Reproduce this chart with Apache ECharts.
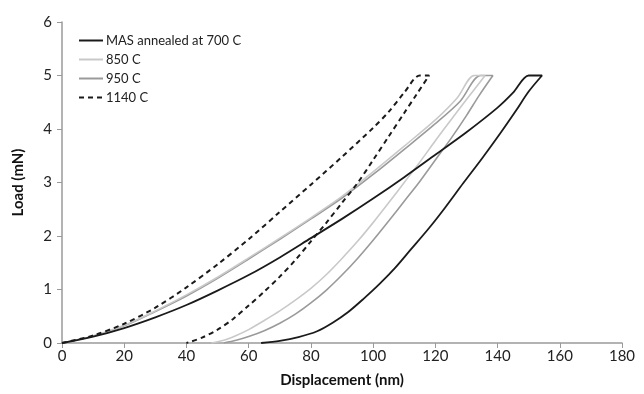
<!DOCTYPE html>
<html><head><meta charset="utf-8">
<script src="https://cdn.jsdelivr.net/npm/echarts@6/dist/echarts.min.js"></script>
<style>html,body{margin:0;padding:0;background:#fff}#c{width:644px;height:394px}</style>
</head><body><div id="c"></div>
<script>
// Series names
const seriesNames = ['MAS annealed at 700 C', '850 C', '950 C', '1140 C'];
// Axis ticks
const xTicks = [0, 20, 40, 60, 80, 100, 120, 140, 160, 180];
const yTicks = [0, 1, 2, 3, 4, 5, 6];

// 700 C : loading then unloading [displacement nm, load mN]
const s700 = [[0,0],[10,0.12],[20,0.28],[30,0.48],[40,0.71],[50,0.98],[60,1.27],[70,1.6],[80,1.96],[90,2.32],[100,2.7],[110,3.1],[120,3.52],[130,3.94],[140,4.4],[145,4.68],[150,5],[154.3,5],
  [150,4.7],[146,4.35],[141,3.93],[135,3.45],[129,2.99],[123,2.52],[118,2.15],[112,1.74],[107,1.4],[102,1.1],[97,0.83],[92,0.58],[87,0.38],[82,0.22],[76,0.11],[70,0.04],[64,0]];
// 850 C
const s850 = [[0,0],[10,0.13],[20,0.33],[30,0.6],[40,0.9],[50,1.23],[60,1.59],[70,1.96],[80,2.34],[90,2.74],[100,3.2],[110,3.68],[120,4.17],[127,4.58],[132.5,5],[136,5],
  [130,4.55],[125,4.17],[120,3.78],[115,3.38],[110,3.0],[105,2.62],[100,2.25],[95,1.9],[90,1.58],[85,1.28],[80,1.02],[75,0.8],[70,0.6],[65,0.42],[60,0.25],[56,0.14],[52,0.05],[48,0]];
// 950 C
const s950 = [[0,0],[10,0.13],[20,0.32],[30,0.59],[40,0.88],[50,1.21],[60,1.57],[70,1.94],[80,2.32],[90,2.71],[100,3.15],[110,3.62],[120,4.1],[128,4.52],[134.5,5],[138.5,5],
  [134,4.62],[130,4.25],[125,3.82],[120,3.42],[115,3.02],[110,2.65],[105,2.28],[100,1.92],[95,1.58],[90,1.27],[85,0.99],[80,0.75],[75,0.54],[70,0.37],[65,0.23],[60,0.12],[56,0.05],[52,0]];
// 1140 C
const s1140 = [[0,0],[10,0.14],[20,0.36],[30,0.66],[40,1.04],[50,1.47],[60,1.94],[70,2.45],[80,2.96],[90,3.48],[100,4.02],[105,4.32],[110,4.68],[115,5],[118,5],
  [114,4.65],[110,4.3],[105,3.86],[100,3.42],[95,2.99],[90,2.62],[85,2.25],[80,1.9],[75,1.55],[70,1.24],[65,0.96],[60,0.7],[55,0.45],[50,0.25],[45,0.1],[40,0]];

const dataSets = [s700, s850, s950, s1140];
const colors = ['#1a1a1a', '#c9c9c9', '#9a9a9a', '#1a1a1a'];
const dashes = ['solid', 'solid', 'solid', [5, 4]];
const widths = [1.8, 1.6, 1.6, 2];

const FONT = 'Lato, "Open Sans", sans-serif';
const chart = echarts.init(document.getElementById('c'));
chart.setOption({
  animation: false,
  backgroundColor: '#fff',
  grid: { left: 62, right: 22, top: 22, bottom: 51 },
  legend: {
    orient: 'vertical', left: 73, top: 29,
    itemWidth: 24, itemHeight: 10, itemGap: 6,
    itemStyle: { opacity: 0 },
    textStyle: { fontFamily: FONT, fontSize: 13, color: '#222', padding: [0,0,0,-2] },
    data: seriesNames
  },
  xAxis: {
    type: 'value', min: xTicks[0], max: xTicks[xTicks.length-1], interval: 20,
    name: 'Displacement (nm)', nameLocation: 'middle', nameGap: 30,
    nameTextStyle: { fontFamily: FONT, fontSize: 15, fontWeight: 'bold', color: '#111' },
    axisLine: { lineStyle: { color: '#9a9a9a', width: 1.5 } },
    axisTick: { show: true, length: 5, lineStyle: { color: '#9a9a9a' } },
    axisLabel: { fontFamily: FONT, fontSize: 15, color: '#222', margin: 6 },
    splitLine: { show: false }
  },
  yAxis: {
    type: 'value', min: yTicks[0], max: yTicks[yTicks.length-1], interval: 1,
    name: 'Load (mN)', nameLocation: 'middle', nameGap: 36, nameRotate: 90,
    nameTextStyle: { fontFamily: FONT, fontSize: 15, fontWeight: 'bold', color: '#111' },
    axisLine: { show: true, lineStyle: { color: '#9a9a9a', width: 1.5 } },
    axisTick: { show: true, length: 5, lineStyle: { color: '#9a9a9a' } },
    axisLabel: { fontFamily: FONT, fontSize: 15, color: '#222', margin: 10 },
    splitLine: { show: false }
  },
  series: seriesNames.map((n, i) => ({
    name: n, type: 'line', data: dataSets[i], symbol: 'none', smooth: 0.3,
    color: colors[i],
    lineStyle: { color: colors[i], width: widths[i], type: dashes[i] },
    z: i === 3 ? 5 : (i === 0 ? 4 : 3 - i)
  }))
});
</script></body></html>
